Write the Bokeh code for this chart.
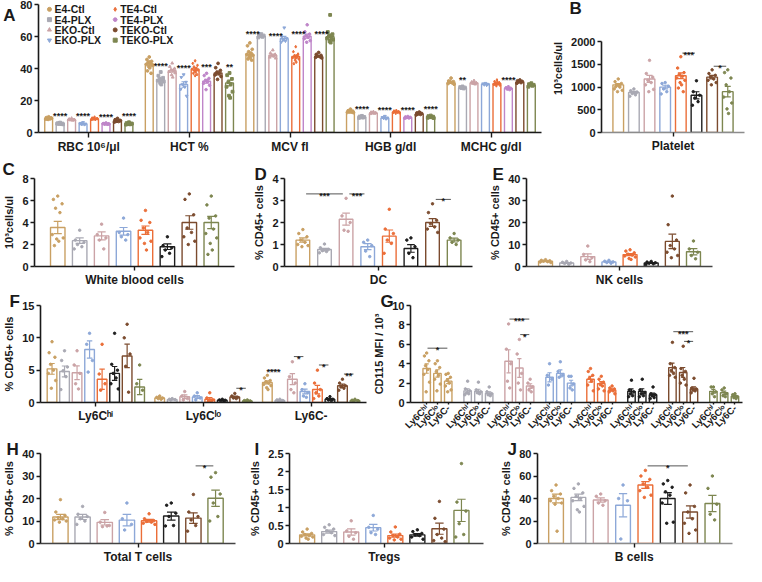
import numpy as np
from bokeh.plotting import figure
from bokeh.models import Range1d, FixedTicker, LinearAxis
from bokeh.layouts import column, row
from bokeh.embed import file_html
from bokeh.resources import INLINE
from bokeh.core.properties import value

FONT = "Liberation Sans"
INK = "#1a1a1a"

groups = ["E4-Ctl", "E4-PLX", "EKO-Ctl", "EKO-PLX", "TE4-Ctl", "TE4-PLX", "TEKO-Ctl", "TEKO-PLX"]
colors_a = ["#C9A063", "#A9A9B3", "#CBA3A6", "#8DA8D8", "#EB6E38", "#BF86C9", "#7B4B2E", "#7D8650"]
colors = ["#C9A063", "#A9A9B3", "#CBA3A6", "#8DA8D8", "#EB6E38", "#1E1E1E", "#7B4B2E", "#7D8650"]
markers_a = ["circle", "square", "triangle", "inverted_triangle", "diamond", "hex", "circle", "square"]

# ---------------- Panel A : blood counts ----------------
a_cats = ["RBC 10⁶/μl", "HCT %", "MCV fl", "HGB g/dl", "MCHC g/dl"]
rbc_mean = [8.8, 5.5, 8.0, 5.4, 8.5, 5.4, 7.3, 5.5]
rbc_pts = [[9.8, 9.3, 9.0, 8.8, 8.6, 8.4, 8.9, 8.2, 9.1, 8.5, 8.7], [6.2, 5.8, 5.6, 5.4, 5.3, 5.5, 5.1, 5.7],
           [8.9, 8.3, 8.0, 7.8, 7.6, 8.1, 7.9], [6.3, 5.8, 5.4, 5.1, 5.0, 5.5],
           [9.6, 9.0, 8.7, 8.5, 8.3, 8.1, 8.6, 8.8, 8.2, 8.4], [6.0, 5.6, 5.4, 5.2, 5.1, 5.5, 5.3],
           [8.8, 8.0, 7.5, 7.2, 6.9, 6.5, 7.4, 7.0], [6.4, 5.9, 5.6, 5.4, 5.1, 4.9, 5.5, 5.3]]
hct_mean = [43.0, 33.0, 38.6, 30.0, 39.6, 32.0, 37.2, 31.0]
hct_pts = [[47.2, 45.6, 44.5, 43.8, 43.2, 42.6, 42.0, 41.2, 40.4, 38.5, 37.0, 44.1],
           [37.8, 35.5, 34.2, 33.6, 33.0, 32.4, 31.8, 31.0, 30.0],
           [43.3, 41.2, 40.0, 39.2, 38.6, 38.0, 37.2, 36.0, 34.5], [36.2, 34.5, 31.5, 30.0, 28.5, 27.0, 22.8],
           [44.8, 43.2, 42.0, 41.0, 40.2, 39.6, 39.0, 38.4, 37.8, 37.0, 36.2, 35.5],
           [37.0, 35.6, 33.8, 32.5, 31.8, 30.8, 29.5, 26.8], [43.2, 40.5, 38.8, 37.6, 36.8, 36.0, 35.0, 33.2],
           [37.2, 35.8, 33.5, 31.5, 30.2, 28.6, 25.5, 23.0, 21.7]]
mcv_mean = [48.9, 60.2, 48.3, 58.7, 47.5, 60.2, 47.7, 59.8]
mcv_pts = [[56.0, 54.2, 52.0, 50.5, 49.6, 48.8, 48.2, 47.5, 46.8, 46.0, 45.2], [61.5, 61.0, 60.6, 60.2, 59.8, 59.4],
           [51.5, 49.6, 48.8, 48.2, 47.6, 47.0, 46.4], [65.5, 59.6, 58.8, 58.0, 57.2, 56.6],
           [53.6, 50.5, 49.0, 48.0, 47.4, 46.8, 46.0, 45.2, 44.0, 43.0, 48.5, 46.5],
           [67.3, 63.0, 61.5, 60.4, 59.5, 58.6, 57.4, 56.4], [50.0, 48.8, 48.2, 47.8, 47.4, 47.0, 46.6],
           [73.5, 62.8, 61.4, 60.2, 59.5, 58.8, 58.0, 57.0, 56.2]]
hgb_mean = [13.0, 9.6, 12.2, 9.1, 12.8, 9.4, 11.6, 9.8]
hgb_pts = [[14.6, 13.6, 13.3, 13.0, 12.8, 12.6, 12.4, 12.9, 13.1], [10.4, 10.0, 9.7, 9.5, 9.3, 9.1],
           [13.0, 12.6, 12.3, 12.1, 11.9, 11.7], [10.2, 9.5, 9.2, 8.9, 8.6],
           [13.8, 13.4, 13.1, 12.9, 12.7, 12.5, 12.3, 12.0], [10.0, 9.7, 9.5, 9.3, 9.1, 8.9],
           [12.8, 12.2, 11.9, 11.6, 11.3, 11.0], [10.6, 10.2, 9.9, 9.7, 9.5, 9.2, 9.0]]
mchc_mean = [31.3, 28.0, 30.9, 30.2, 30.6, 27.6, 31.6, 29.6]
mchc_pts = [[34.0, 32.2, 31.8, 31.4, 31.0, 30.6, 30.2, 31.6], [28.8, 28.4, 28.1, 27.8, 27.5],
            [32.4, 31.5, 31.0, 30.6, 30.2], [30.8, 30.5, 30.2, 29.9, 29.6],
            [32.8, 31.9, 31.2, 30.8, 30.4, 30.0, 29.6, 29.2, 31.5, 30.2], [28.6, 28.0, 27.6, 27.2, 26.8],
            [32.8, 32.3, 31.9, 31.6, 31.2, 30.8], [30.8, 30.2, 29.8, 29.5, 29.2, 28.6]]
a_stars = [["****", "****", "****", "****"], ["****", "****", "***", "**"], ["****", "****", "****", "****"],
           ["****", "****", "****", "****"], ["**", "", "****", ""]]

# ---------------- Panel B : platelets ----------------
plt_mean = [1050, 880, 1180, 1000, 1250, 820, 1220, 900]
plt_pts = [[1180, 1120, 1080, 1050, 1000, 960, 930, 900, 1040, 1010], [960, 920, 890, 860, 830, 800],
           [1590, 1300, 1220, 1150, 1100, 1050, 950, 900], [1100, 1080, 1020, 960, 900, 850],
           [1670, 1420, 1320, 1280, 1240, 1200, 1150, 1100, 1050, 980, 900], [1140, 900, 820, 760, 680, 600],
           [1380, 1300, 1260, 1220, 1180, 1150, 1100, 1050], [1380, 1320, 1200, 1050, 900, 780, 650, 520, 420]]
plt_sig = [(4, 5, "***"), (6, 7, "*")]

# ---------------- Panel C : WBC ----------------
wbc_mean = [3.55, 2.35, 2.78, 3.2, 3.3, 1.8, 4.0, 4.0]
wbc_pts = [[6.4, 6.1, 5.7, 5.3, 4.9, 2.9, 2.6, 2.5, 2.3, 1.9], [3.3, 2.4, 2.2, 2.0, 1.8, 1.6],
           [3.85, 2.9, 2.6, 2.4, 1.6], [4.4, 3.1, 2.9, 2.7, 2.4],
           [5.1, 4.2, 4.0, 3.5, 3.1, 2.6, 2.3, 2.1, 1.5], [2.7, 1.9, 1.7, 1.5, 1.2, 0.9],
           [6.6, 6.1, 4.7, 3.5, 3.1, 2.7, 2.3, 2.0], [6.4, 5.6, 4.6, 4.4, 3.4, 3.0, 2.6, 2.1, 1.5, 1.1]]

# ---------------- Panel D : DC ----------------
dc_mean = [1.2, 0.77, 2.15, 0.9, 1.38, 0.82, 2.0, 1.2]
dc_pts = [[1.68, 1.5, 1.35, 1.2, 1.1, 1.0, 0.95, 0.9], [1.02, 0.85, 0.78, 0.72, 0.68, 0.62],
          [3.1, 2.3, 2.0, 1.65, 1.6], [1.2, 1.1, 0.95, 0.7, 0.45], [2.6, 1.7, 1.5, 1.2, 1.05, 0.6],
          [1.3, 1.2, 0.9, 0.6, 0.4], [2.85, 2.45, 2.1, 1.95, 1.8, 1.7, 1.55], [1.5, 1.3, 1.2, 1.1, 1.0]]
dc_sig = [(0, 2, "***"), (2, 3, "***"), (6, 7, "*")]

# ---------------- Panel E : NK ----------------
nk_mean = [2.4, 1.6, 4.5, 2.1, 5.4, 1.6, 11.4, 6.7]
nk_pts = [[3.1, 2.8, 2.6, 2.4, 2.2, 2.0, 1.8], [2.3, 1.9, 1.6, 1.4, 1.0], [9.3, 5.5, 4.0, 3.0, 2.2],
          [2.8, 2.4, 2.1, 1.8, 1.5], [7.6, 7.0, 6.2, 5.6, 5.2, 4.8, 4.3, 3.6, 3.2], [2.3, 2.0, 1.7, 1.5, 1.2, 0.9],
          [32.0, 19.0, 12.0, 9.5, 8.0, 6.5, 5.0, 4.0], [11.6, 8.0, 6.5, 5.0, 3.5]]

# ---------------- Panel F : monocytes ----------------
f_cats = ["Ly6Cʰⁱ", "Ly6Cˡᵒ", "Ly6C-"]
hi_mean = [5.2, 4.8, 4.6, 8.2, 3.6, 4.5, 7.2, 2.4]
hi_pts = [[9.4, 7.7, 7.0, 5.9, 5.0, 4.5, 3.4, 2.2], [8.0, 6.5, 5.5, 4.9, 4.0, 2.0], [8.0, 5.8, 4.5, 2.9, 2.1],
          [10.7, 9.0, 6.5, 4.7], [9.0, 4.4, 2.9, 1.9], [10.7, 5.9, 5.0, 4.5, 3.8, 2.9, 2.1],
          [12.1, 10.0, 7.5, 5.6, 1.6], [5.8, 2.9, 1.9]]
lo_mean = [0.7, 0.45, 0.9, 0.85, 0.5, 0.35, 0.85, 0.25]
lo_pts = [[1.0, 0.8, 0.7, 0.6, 0.5], [0.6, 0.5, 0.45, 0.4], [1.7, 1.0, 0.6, 0.4], [1.5, 1.0, 0.7, 0.4],
          [1.5, 0.7, 0.4, 0.2, 0.1], [0.5, 0.4, 0.35, 0.3, 0.25], [1.4, 1.0, 0.8, 0.7, 0.6], [0.4, 0.3, 0.25, 0.2]]
neg_mean = [3.1, 0.3, 3.6, 1.7, 2.0, 0.5, 2.6, 0.3]
neg_pts = [[4.2, 3.8, 3.4, 3.2, 3.0, 2.8, 2.6, 2.3, 2.0], [0.5, 0.4, 0.3, 0.25, 0.2], [6.3, 4.0, 3.0, 2.0, 1.5],
           [2.9, 2.0, 1.5, 1.0, 0.8], [5.0, 3.0, 2.0, 1.5, 1.0, 0.6], [0.9, 0.6, 0.5, 0.4, 0.3],
           [3.6, 3.0, 2.6, 2.4, 2.2, 1.9], [0.5, 0.35, 0.3, 0.2]]
f_sig = [(14, 15, "*"), (16, 17, "****"), (18, 19, "*"), (20, 21, "*"), (22, 23, "**")]

# ---------------- Panel G : CD115 MFI ----------------
g_subsets = ["Ly6Cʰⁱ", "Ly6Cˡᵒ", "Ly6C-"]
g_mean = [[3.5, 3.0, 2.2], [1.2, 1.15, 0.95], [4.25, 3.55, 1.7], [2.6, 3.0, 2.0],
          [2.4, 1.95, 1.3], [1.15, 1.15, 0.8], [3.6, 3.1, 1.4], [1.15, 1.0, 0.65]]
g_pts = [[[5.1, 4.8, 4.3, 3.8, 3.4, 2.9, 2.1, 1.1], [4.3, 4.0, 3.6, 3.2, 2.8, 2.4, 1.9, 1.2], [3.0, 2.9, 2.6, 2.3, 2.0, 1.7, 1.3, 1.1]],
         [[2.2, 1.4, 1.2, 1.0, 0.9, 0.8], [2.1, 1.3, 1.1, 1.0, 0.9], [1.6, 1.1, 0.9, 0.8, 0.7]],
         [[8.1, 5.5, 4.0, 2.2, 1.5], [6.5, 5.0, 3.0, 2.0, 1.3], [2.4, 2.0, 1.6, 1.3, 1.1]],
         [[4.0, 2.8, 2.4, 1.8], [4.2, 3.2, 2.8, 2.6], [2.7, 2.7, 1.9, 1.5, 1.3]],
         [[3.5, 3.2, 2.8, 2.5, 2.2, 1.8, 1.2], [2.7, 2.4, 2.1, 1.9, 1.7, 1.4, 1.2], [1.7, 1.5, 1.4, 1.3, 1.2, 1.1, 0.9]],
         [[2.3, 1.3, 1.1, 0.9, 0.7, 0.6], [2.4, 1.3, 1.0, 0.9, 0.7, 0.6], [1.6, 0.9, 0.8, 0.7, 0.5, 0.4]],
         [[6.2, 4.0, 3.6, 3.3, 3.0, 2.8, 2.6], [5.8, 3.5, 3.2, 2.8, 2.4, 2.0, 1.8], [2.5, 1.5, 1.4, 1.3, 1.2, 1.0]],
         [[1.6, 1.6, 1.1, 0.9, 0.6], [1.5, 1.3, 0.9, 0.7, 0.6], [0.9, 0.8, 0.6, 0.5, 0.4]]]
g_sig = [(0, 2, "*"), (7, 8, "*"), (6, 8, "***"), (19, 20, "*"), (18, 20, "***")]

# ---------------- Panels H, I, J ----------------
t_mean = [11.8, 11.8, 9.4, 10.4, 10.1, 12.2, 11.3, 20.1]
t_pts = [[19.5, 14.0, 12.5, 11.5, 11.0, 10.5, 10.0, 9.5], [16.5, 13.0, 12.0, 11.0, 10.0, 8.5],
         [13.8, 9.5, 8.0, 7.5, 7.8], [18.0, 11.0, 8.5, 6.0], [13.2, 11.0, 10.2, 9.8, 9.5, 9.0, 8.5],
         [18.0, 17.0, 13.5, 12.0, 8.0, 7.8], [21.8, 14.0, 12.0, 10.5, 8.0, 5.5], [31.5, 29.5, 22.0, 18.0, 12.0, 10.0]]
t_sig = [(6, 7, "*")]
treg_mean = [0.24, 0.33, 0.32, 0.44, 0.22, 0.24, 0.41, 0.92]
treg_pts = [[0.40, 0.32, 0.28, 0.25, 0.22, 0.20, 0.18, 0.15, 0.12], [0.52, 0.45, 0.40, 0.35, 0.30, 0.25, 0.22],
            [0.63, 0.35, 0.30, 0.20, 0.12], [0.78, 0.45, 0.40, 0.30, 0.25],
            [0.46, 0.32, 0.26, 0.22, 0.18, 0.15, 0.12, 0.10], [0.38, 0.33, 0.28, 0.24, 0.22, 0.18, 0.12],
            [1.17, 0.70, 0.40, 0.25, 0.15, 0.08, 0.05], [2.22, 1.15, 0.90, 0.55, 0.25, 0.18]]
b_mean = [40.0, 41.0, 38.7, 34.0, 52.0, 40.0, 28.0, 35.5]
b_pts = [[52, 47, 44, 42, 40, 38, 36, 35, 11], [53, 49, 45, 42, 40, 38, 33, 30, 28], [44, 42, 38, 36, 34],
         [52, 40, 38, 4], [65, 60, 57, 53, 50, 47, 43, 41], [56, 53, 50, 46, 43, 36, 19, 18],
         [52, 45, 33, 28, 22, 18, 12, 9], [60, 49, 35, 26, 21]]
b_sig = [(4, 6, "*")]

# ---------------- helpers ----------------
JIT = [0.0, -0.3, 0.3, -0.15, 0.15, -0.38, 0.38, -0.07, 0.07, -0.23, 0.23, 0.0]


def sem(v):
    v = np.asarray(v, float)
    return float(v.std(ddof=1) / np.sqrt(len(v)))


def base_fig(w, h, lb, rb, tb, bb, xr, yr, yticks, ylabel=None, title=""):
    p = figure(width=w, height=h, x_range=Range1d(*xr), y_range=Range1d(*yr), output_backend="svg",
               toolbar_location=None, tools="", min_border_left=lb, min_border_right=rb,
               min_border_top=tb, min_border_bottom=bb, title=title)
    p.outline_line_color = None
    p.xgrid.visible = False
    p.ygrid.visible = False
    p.yaxis.ticker = FixedTicker(ticks=yticks)
    for ax in (p.xaxis[0], p.yaxis[0]):
        ax.axis_line_width = 1.6
        ax.axis_line_color = INK
        ax.major_tick_line_width = 1.4
        ax.major_tick_line_color = INK
        ax.major_tick_out = 4
        ax.major_tick_in = 0
        ax.minor_tick_out = 0
        ax.minor_tick_in = 0
        ax.major_label_text_font = FONT
        ax.major_label_text_font_style = "bold"
        ax.major_label_text_font_size = "11px"
        ax.major_label_text_color = INK
        ax.major_label_standoff = 2
        ax.axis_label_text_font = FONT
        ax.axis_label_text_font_style = "bold"
        ax.axis_label_text_font_size = "11px"
        ax.axis_label_text_color = INK
    if ylabel:
        p.yaxis.axis_label = ylabel
        p.yaxis.axis_label_standoff = 4
    return p


def set_xticks(p, ticks, labels, size="12px"):
    p.xaxis.ticker = FixedTicker(ticks=ticks)
    p.xaxis.major_label_overrides = {t: l for t, l in zip(ticks, labels)}
    p.xaxis.major_label_text_font_size = size


def letter(p, txt, dx, sd):
    t = p.title
    t.text = txt
    t.align = "left"
    t.offset = dx
    t.standoff = sd
    t.text_font = FONT
    t.text_font_size = "17px"
    t.text_font_style = "bold"
    t.text_color = INK


def draw_bars(p, xs, means, pts, cols, bw, markers=None, dot=2.5):
    errs = [sem(v) for v in pts]
    hi = [m + e for m, e in zip(means, errs)]
    lo = [m - e for m, e in zip(means, errs)]
    p.vbar(x=xs, top=means, bottom=0, width=bw, fill_color="white", line_color=cols, line_width=1.4)
    p.segment(x0=xs, y0=lo, x1=xs, y1=hi, line_color=cols, line_width=1.2)
    cw = bw * 0.28
    p.segment(x0=[x - cw for x in xs], y0=hi, x1=[x + cw for x in xs], y1=hi, line_color=cols, line_width=1.2)
    p.segment(x0=[x - cw for x in xs], y0=lo, x1=[x + cw for x in xs], y1=lo, line_color=cols, line_width=1.2)
    for k, (x, v, c) in enumerate(zip(xs, pts, cols)):
        dxs = [x + JIT[n % len(JIT)] * bw for n in range(len(v))]
        p.scatter(dxs, v, size=dot, color=c, marker=(markers[k] if markers else "circle"))


def stars_text(p, x, y, lab, baseline="alphabetic", yoff=2):
    p.text(x=[x], y=[y], text=[lab], text_font=value(FONT), text_font_size="9px", text_font_style="bold",
           text_align="center", text_baseline=baseline, text_color=INK, y_offset=yoff)


def brackets(p, xs, pts, pairs, pad, step, shrink):
    drawn = []
    for (i, j, lab) in pairs:
        x0, x1 = xs[i] + shrink, xs[j] - shrink
        y = max(max(pts[k]) for k in range(i, j + 1)) + pad
        for (a, b, yp) in drawn:
            if a < x1 and x0 < b and y < yp + step:
                y = yp + step
        drawn.append((x0, x1, y))
        p.segment(x0=[x0], y0=[y], x1=[x1], y1=[y], line_color="#555555", line_width=1)
        stars_text(p, (x0 + x1) / 2, y, lab)


# ---------------- Panel A ----------------
pA = base_fig(545, 156, 36, 4, 4, 20, (-0.5, 4.5), (0, 80), [0, 20, 40, 60, 80], title=None)
set_xticks(pA, [0, 1, 2, 3, 4], a_cats)
pA.xaxis.major_tick_out = 5
a_means = [rbc_mean, hct_mean, mcv_mean, hgb_mean, mchc_mean]
a_points = [rbc_pts, hct_pts, mcv_pts, hgb_pts, mchc_pts]
A_SP, A_BW = 0.114, 0.078
for c in range(5):
    xs = [c + (i - 3.5) * A_SP for i in range(8)]
    draw_bars(pA, xs, a_means[c], a_points[c], colors_a, A_BW, markers=markers_a, dot=2.8)
    for k, lab in enumerate(a_stars[c]):
        if not lab:
            continue
        ci, pi = 2 * k, 2 * k + 1
        if a_means[c][pi] > a_means[c][ci]:
            stars_text(pA, xs[ci] + 0.25 * A_SP, a_means[c][pi] + 1.5, lab, baseline="middle", yoff=0)
        else:
            stars_text(pA, xs[pi], max(a_points[c][pi]) + 4, lab, baseline="middle", yoff=0)
# legend drawn inside the frame, two columns of four
px_per_x = 505 / 5.0
px_per_y = 132 / 80.0
for g in range(8):
    colx = -0.5 + (11 if g < 4 else 77) / px_per_x
    ly = 80 - (5 + 10.6 * (g % 4)) / px_per_y
    pA.scatter([colx], [ly], size=4, color=colors_a[g], marker=markers_a[g])
    pA.text(x=[colx + 5 / px_per_x], y=[ly], text=[groups[g]], text_font=value(FONT), text_font_size="10.5px",
            text_font_style="bold", text_align="left", text_baseline="middle", text_color=INK)
# panel letter "A" as an extra, line-less axis at the top tick
letter_axis = LinearAxis(ticker=FixedTicker(ticks=[80]), major_label_overrides={80: "A"},
                         axis_line_color=None, major_tick_line_color=None, minor_tick_line_color=None,
                         major_label_text_font=FONT, major_label_text_font_size="17px",
                         major_label_text_font_style="bold", major_label_text_color=INK,
                         major_label_standoff=2, major_tick_out=0, major_tick_in=0,
                         minor_tick_out=0, minor_tick_in=0)
pA.add_layout(letter_axis, "left")

# ---------------- Panel B ----------------
# frames in a row share top/bottom, so B's axis is bounded to 0..2000 in a taller frame
B_TOP = 2000 * 132 / 93.6
pB = base_fig(201, 156, 56, 2, 4, 20, (-1.07, 8.07), (0, B_TOP), [0, 500, 1000, 1500, 2000], "10³cells/ul")
pB.yaxis.bounds = (0, 2000)
set_xticks(pB, [3.5], ["Platelet"])
pB.xaxis.axis_line_color = "#8c8c8c"
xs8 = list(range(8))
draw_bars(pB, xs8, plt_mean, plt_pts, colors, 0.68)
brackets(pB, xs8, plt_pts, plt_sig, 80, 120, 0.1)
letter(pB, "B", -32, -26)

# ---------------- Panel C ----------------
pC = base_fig(240, 133, 32, 6, 22, 18, (-1.06, 8.06), (0, 8), [0, 2, 4, 6, 8], "10³cells/ul")
set_xticks(pC, [3.5], ["White blood cells"])
draw_bars(pC, xs8, wbc_mean, wbc_pts, colors, 0.66)
letter(pC, "C", -32, 0)

# ---------------- Panel D ----------------
pD = base_fig(240, 133, 44, 8, 22, 18, (-0.85, 7.85), (0, 4), [0, 1, 2, 3, 4], "% CD45+ cells")
set_xticks(pD, [3.5], ["DC"])
draw_bars(pD, xs8, dc_mean, dc_pts, colors, 0.63)
brackets(pD, xs8, dc_pts, dc_sig, 0.2, 0.3, 0.15)
letter(pD, "D", -30, -11)

# ---------------- Panel E ----------------
pE = base_fig(266, 133, 46, 34, 22, 18, (-0.9, 7.9), (0, 40), [0, 10, 20, 30, 40], "% CD45+ cells")
set_xticks(pE, [3.5], ["NK cells"])
pE.xaxis.axis_line_color = "#444444"
draw_bars(pE, xs8, nk_mean, nk_pts, colors, 0.66)
letter(pE, "E", -34, -11)

# ---------------- Panel F ----------------
pF = base_fig(370, 148, 32, 4, 16, 32, (-22.1, 108.1), (0, 15), [0, 5, 10, 15], "% CD45+ cells")
set_xticks(pF, [0, 43, 86], f_cats)
f_xs = [cat * 43 + (i - 3.5) * 5 for cat in range(3) for i in range(8)]
f_means = hi_mean + lo_mean + neg_mean
f_pts = hi_pts + lo_pts + neg_pts
draw_bars(pF, f_xs, f_means, f_pts, colors * 3, 3.85)
brackets(pF, f_xs, f_pts, f_sig, 0.8, 1.0, 0.6)
letter(pF, "F", -31, -11)

# ---------------- Panel G ----------------
pG = base_fig(376, 148, 34, 4, 16, 32, (-7.5, 146.5), (0, 10), [0, 2, 4, 6, 8, 10], "CD115 MFI / 10³")
g_xs = [g * 19 + i * 5 for g in range(8) for i in range(3)]
set_xticks(pG, g_xs, g_subsets * 8, size="9.5px")
pG.xaxis.major_label_orientation = np.pi / 4
pG.xaxis.major_tick_out = 2
g_cols = [colors[g] for g in range(8) for i in range(3)]
g_m = [m for grp in g_mean for m in grp]
g_p = [v for grp in g_pts for v in grp]
draw_bars(pG, g_xs, g_m, g_p, g_cols, 3.45)
brackets(pG, g_xs, g_p, g_sig, 0.5, 1.0, 0.4)
letter(pG, "G", -30, -11)

# ---------------- Panel H ----------------
pH = base_fig(245, 129, 34, 10, 16, 20, (-0.9, 7.9), (0, 40), [0, 10, 20, 30, 40], "% CD45+ cells")
set_xticks(pH, [3.5], ["Total T cells"])
pH.xaxis.axis_line_color = "#444444"
draw_bars(pH, xs8, t_mean, t_pts, colors, 0.69)
brackets(pH, xs8, t_pts, t_sig, 3, 3, 0.1)
letter(pH, "H", -34, -11)

# ---------------- Panel I ----------------
pI = base_fig(246, 129, 44, 8, 16, 20, (-0.8, 8.0), (0, 2.5), [0, 0.5, 1, 1.5, 2, 2.5], "% CD45+ cells")
set_xticks(pI, [3.5], ["Tregs"])
pI.xaxis.axis_line_color = "#444444"
draw_bars(pI, xs8, treg_mean, treg_pts, colors, 0.68)
letter(pI, "I", -35, -11)

# ---------------- Panel J ----------------
pJ = base_fig(255, 129, 46, 14, 16, 20, (-0.83, 7.9), (0, 80), [0, 20, 40, 60, 80], "% CD45+ cells")
set_xticks(pJ, [3.5], ["B cells"])
pJ.xaxis.axis_line_color = "#8c8c8c"
draw_bars(pJ, xs8, b_mean, b_pts, colors, 0.66)
brackets(pJ, xs8, b_pts, b_sig, 4, 5, 0.1)
letter(pJ, "J", -30, -11)

layout = column(row(pA, pB, spacing=0), row(pC, pD, pE, spacing=0), row(pF, pG, spacing=0),
                row(pH, pI, pJ, spacing=0), spacing=0)
open("out.html", "w").write(file_html(layout, INLINE))
